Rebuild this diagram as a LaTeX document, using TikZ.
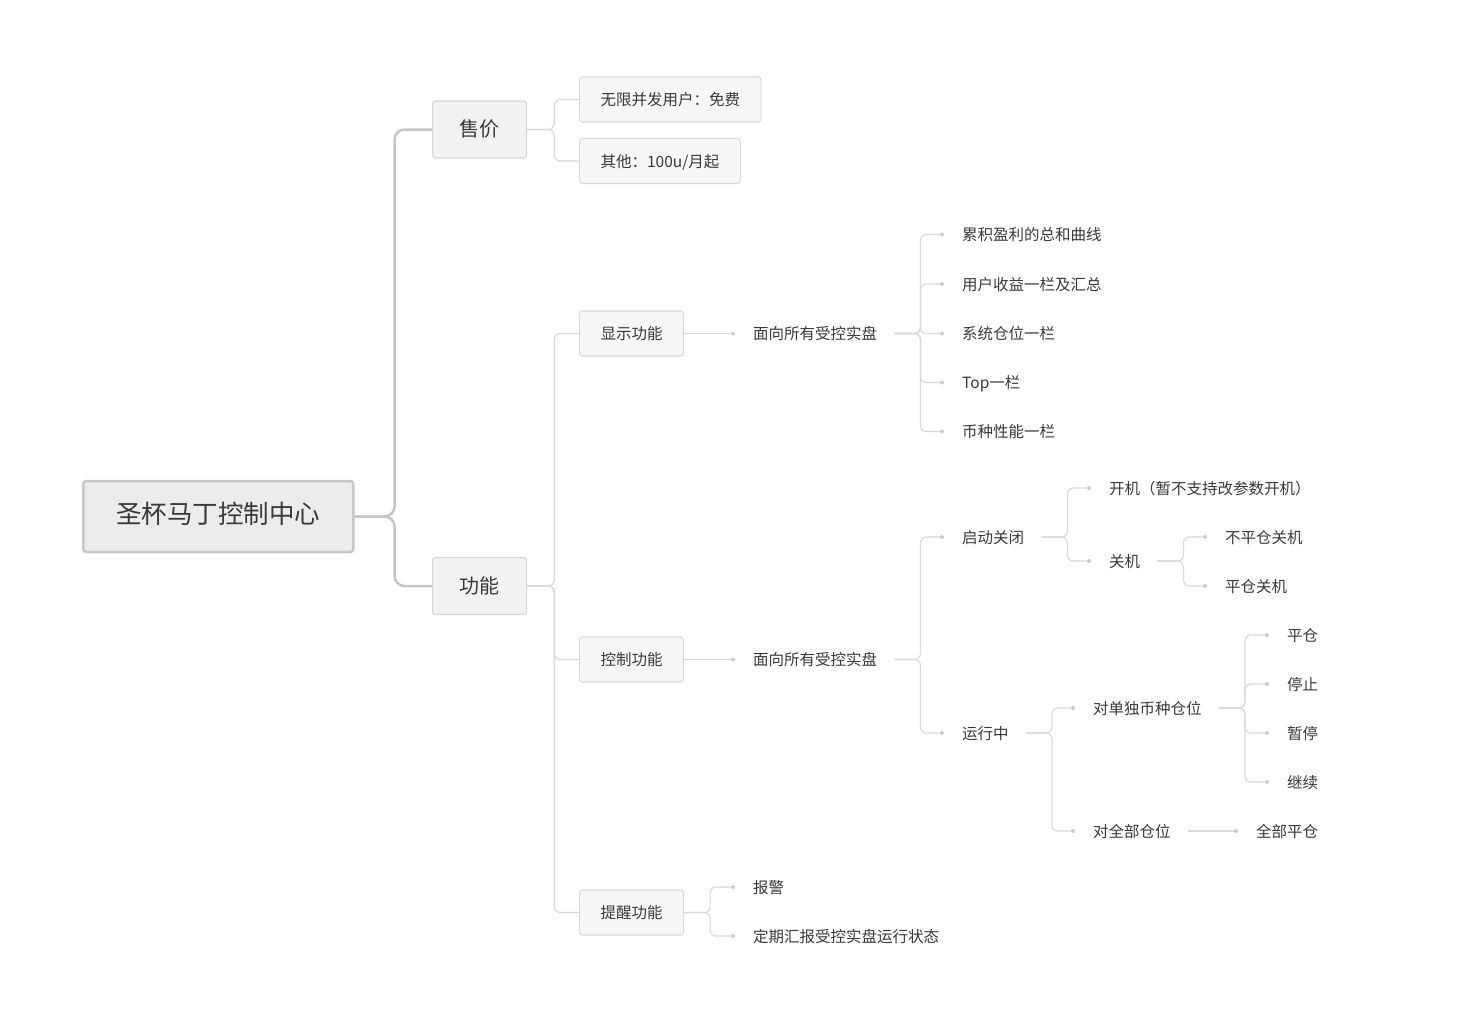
\documentclass[tikz,border=0pt]{standalone}
\usepackage{fontspec}
\setmainfont{Noto Sans CJK SC}

\definecolor{inkgray}{HTML}{393939}
\definecolor{trunkgray}{HTML}{C6C6C6}
\definecolor{linegray}{HTML}{D9D9D9}
\definecolor{dotgray}{HTML}{CBCBCB}
\definecolor{rootfill}{HTML}{ECECEC}
\definecolor{rootedge}{HTML}{C8C8C8}
\definecolor{mainfill}{HTML}{F2F2F2}
\definecolor{mainedge}{HTML}{D6D6D6}
\definecolor{subfill}{HTML}{F7F7F7}
\definecolor{subedge}{HTML}{DADADA}

\newcommand\fsroot{\fontsize{25.5}{30}\selectfont}
\newcommand\fsmain{\fontsize{20}{24}\selectfont}
\newcommand\fsleaf{\fontsize{15.5}{19}\selectfont}

\begin{document}
\begin{tikzpicture}[x=1pt,y=-1pt,
	rootbox/.style={ anchor=west, draw=rootedge, fill=rootfill, line width=2.5pt, rounded corners=3pt, inner xsep=33pt, minimum height=71pt, font=\fsroot, text=inkgray, text height=1.48em, text depth=0em },
	mainbox/.style={ anchor=west, draw=mainedge, fill=mainfill, line width=1.2pt, rounded corners=3pt, inner xsep=27pt, minimum height=57pt, font=\fsmain, text=inkgray, text height=1.4em, text depth=0em },
	subbox/.style={ anchor=west, draw=subedge, fill=subfill, line width=1.1pt, rounded corners=3pt, inner xsep=21pt, minimum height=45pt, font=\fsleaf, text=inkgray, text height=1.2em, text depth=0em },
	leaf/.style={ anchor=west, inner sep=0pt, font=\fsleaf, text=inkgray, text height=1.2em, text depth=0em },
	trunk/.style={ draw=trunkgray, line width=2.5pt, rounded corners=10pt },
	link/.style={ draw=linegray, line width=1.2pt, rounded corners=6pt },
	dot/.style={ circle, fill=dotgray, inner sep=0pt, minimum size=4pt }
]

\useasboundingbox (0,0) rectangle (1474,1012);

% boxes
\node at (82,516.5) (root) [rootbox] {圣杯马丁控制中心};
\node at (432,129.5) (price) [mainbox] {售价};
\node at (432,586) (func) [mainbox] {功能};
\node at (579,99.5) (free) [subbox] {无限并发用户：免费};
\node at (579,161) (other) [subbox] {其他：100u/月起};
\node at (579,333.5) (show) [subbox] {显示功能};
\node at (579,659.5) (ctrl) [subbox] {控制功能};
\node at (579,912.5) (remind) [subbox] {提醒功能};

% display
\node at (753,333.5) (showall) [leaf] {面向所有受控实盘};
\node at (962,234.5) (s1) [leaf] {累积盈利的总和曲线};
\node at (962,284) (s2) [leaf] {用户收益一栏及汇总};
\node at (962,333.5) (s3) [leaf] {系统仓位一栏};
\node at (962,382.5) (s4) [leaf] {Top一栏};
\node at (962,431.5) (s5) [leaf] {币种性能一栏};

% control
\node at (753,659.5) (ctrlall) [leaf] {面向所有受控实盘};
\node at (962,537) (start) [leaf] {启动关闭};
\node at (1109,488) (on) [leaf] {开机（暂不支持改参数开机）};
\node at (1109,561) (off) [leaf] {关机};
\node at (1225,537) (off1) [leaf] {不平仓关机};
\node at (1225,586) (off2) [leaf] {平仓关机};
\node at (962,733) (run) [leaf] {运行中};
\node at (1093,708) (single) [leaf] {对单独币种仓位};
\node at (1287,635) (r1) [leaf] {平仓};
\node at (1287,684) (r2) [leaf] {停止};
\node at (1287,733) (r3) [leaf] {暂停};
\node at (1287,782) (r4) [leaf] {继续};
\node at (1093,831) (whole) [leaf] {对全部仓位};
\node at (1256,831) (closeall) [leaf] {全部平仓};

% remind
\node at (753,887) (alarm) [leaf] {报警};
\node at (753,936) (report) [leaf] {定期汇报受控实盘运行状态};

% connectors
\draw[trunk] (root.east) -- ++(40,0) |- (price.west);
\draw[trunk] (root.east) -- ++(40,0) |- (func.west);
\draw[link] (price.east) -- ++(27,0) |- (free.west);
\draw[link] (price.east) -- ++(27,0) |- (other.west);
\foreach \b in {show,ctrl,remind}
	\draw[link] (func.east) -- ++(27,0) |- (\b.west);

\draw[link] (show.east) -- ([xshift=-20]showall.west) node[dot] {};
\foreach \n in {s1,s2,s3,s4,s5}
	\draw[link] ([xshift=17]showall.east) -- ++(26,0) |- ([xshift=-20]\n.west) node[dot] {};

\draw[link] (ctrl.east) -- ([xshift=-20]ctrlall.west) node[dot] {};
\foreach \n in {start,run}
	\draw[link] ([xshift=17]ctrlall.east) -- ++(26,0) |- ([xshift=-20]\n.west) node[dot] {};
\foreach \n in {on,off}
	\draw[link] ([xshift=17]start.east) -- ++(26,0) |- ([xshift=-20]\n.west) node[dot] {};
\foreach \n in {off1,off2}
	\draw[link] ([xshift=17]off.east) -- ++(26,0) |- ([xshift=-20]\n.west) node[dot] {};
\foreach \n in {single,whole}
	\draw[link] ([xshift=17]run.east) -- ++(26,0) |- ([xshift=-20]\n.west) node[dot] {};
\foreach \n in {r1,r2,r3,r4}
	\draw[link] ([xshift=17]single.east) -- ++(26,0) |- ([xshift=-20]\n.west) node[dot] {};
\draw[link] ([xshift=17]whole.east) -- ([xshift=-20]closeall.west) node[dot] {};

\foreach \n in {alarm,report}
	\draw[link] (remind.east) -- ++(26,0) |- ([xshift=-20]\n.west) node[dot] {};

\end{tikzpicture}
\end{document}
